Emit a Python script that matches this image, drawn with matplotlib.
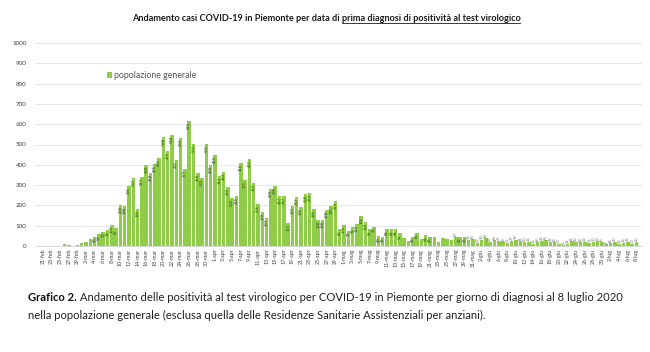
import matplotlib
matplotlib.use("Agg")
import matplotlib.pyplot as plt
from matplotlib.lines import Line2D
import numpy as np
import datetime as dt

# daily counts, 21 Feb -> 8 Jul 2020
cases = [
    0, 0, 1, 0, 2, 8, 7, 2, 6, 13,
    21, 33, 46, 59, 70, 79, 103, 87, 200, 198,
    295, 337, 180, 341, 399, 358, 405, 435, 538, 470,
    548, 425, 533, 377, 616, 503, 358, 333, 501, 400,
    450, 344, 363, 289, 234, 245, 410, 325, 427, 310,
    206, 169, 137, 279, 295, 247, 247, 115, 197, 243,
    190, 258, 263, 180, 128, 128, 178, 197, 223, 82,
    105, 75, 92, 110, 146, 120, 82, 95, 49, 46,
    84, 84, 84, 62, 38, 25, 46, 66, 33, 54,
    46, 43, 21, 38, 33, 30, 43, 46, 46, 30,
    33, 16, 30, 38, 22, 28, 25, 18, 15, 27,
    30, 24, 20, 22, 12, 18, 26, 28, 22, 18,
    10, 6, 12, 24, 20, 18, 22, 15, 20, 23,
    18, 8, 14, 20, 12, 16, 22, 10, 20,
]
months_it = ["gen", "feb", "mar", "apr", "mag", "giu", "lug", "ago", "set", "ott", "nov", "dic"]
start = dt.date(2020, 2, 21)
days = [start + dt.timedelta(days=k) for k in range(len(cases))]
day_labels = [f"{d.day}-{months_it[d.month - 1]}" for d in days]
series_name = "popolazione generale"

title_a = "Andamento casi COVID-19 in Piemonte per data di "
title_b = "prima diagnosi di positività al test virologico"
cap_bold = "Grafico 2."
cap_1 = " Andamento delle positività al test virologico per COVID-19 in Piemonte per giorno di diagnosi al 8 luglio 2020"
cap_2 = "nella popolazione generale (esclusa quella delle Residenze Sanitarie Assistenziali per anziani)."

W, H = 650, 352
bar_color = "#8fcd48"
font = ["Lato", "DejaVu Sans"]

fig = plt.figure(figsize=(W / 100, H / 100), dpi=100)
ax = fig.add_axes([35 / W, 1 - 246 / H, (642 - 35) / W, (246 - 43) / H])

x = np.arange(len(cases))
ax.bar(x, cases, width=0.8, color=bar_color, label=series_name, zorder=2)

# tiny rotated value labels like the original
for xi, v in zip(x, cases):
    if v >= 45:
        ax.text(xi, v - 4, str(v), rotation=90, ha="center", va="top",
                fontsize=2.7, color="#2f4a1c", zorder=3)
    elif v > 0 and xi > 95:
        ax.text(xi, v + 3, str(v), rotation=90, ha="center", va="bottom",
                fontsize=2.7, color="#777777", zorder=3)

ax.set_xlim(-1.86, 139.3)
ax.set_ylim(0, 1000)
ax.set_yticks(range(0, 1001, 100))
ax.set_xticks(x[::2])
ax.set_xticklabels(day_labels[::2], rotation=90, fontsize=3.8, color="#404040", family=font)
ax.tick_params(axis="x", length=0, pad=2)
ax.tick_params(axis="y", length=0, pad=6, labelsize=4.5, labelcolor="#404040")
for lab in ax.get_yticklabels():
    lab.set_family(font)
ax.yaxis.grid(True, color="#e3e3e3", lw=0.6, zorder=0)
for s in ["top", "right", "left"]:
    ax.spines[s].set_visible(False)
ax.spines["bottom"].set_color("#cfcfcf")
ax.spines["bottom"].set_linewidth(0.6)

ax.legend(loc="upper left", bbox_to_anchor=(0.105, 0.9), frameon=False,
          prop={"family": font, "size": 6.3}, handlelength=0.6, handleheight=0.6,
          handletextpad=0.2, labelcolor="#555555")

r = fig.canvas.get_renderer()


def place_line(parts, y, center=None, left=None):
    texts = []
    for s, kw in parts:
        texts.append(fig.text(0, y, s, family=font, va="baseline", **kw))
    widths = [t.get_window_extent(r).width for t in texts]
    total = sum(widths)
    xpos = (center - total / 2) if center is not None else left
    for t, w in zip(texts, widths):
        t.set_x(xpos / W)
        xpos += w
    return texts


tt = place_line([(title_a, dict(weight="bold", size=6.6, color="#1a1a1a")),
                 (title_b, dict(weight="bold", size=6.6, color="#1a1a1a"))],
                1 - 21 / H, center=326)
bb = tt[1].get_window_extent(r)
fig.add_artist(Line2D([bb.x0 / W, bb.x1 / W], [1 - 23.2 / H] * 2, color="#1a1a1a", lw=0.6))

place_line([(cap_bold, dict(weight="bold", size=8.1, color="#111111")),
            (cap_1, dict(size=8.1, color="#222222"))], 1 - 301 / H, left=28)
place_line([(cap_2, dict(size=8.1, color="#222222"))], 1 - 319 / H, left=28)

fig.savefig("out.png", dpi=100, facecolor="white")
